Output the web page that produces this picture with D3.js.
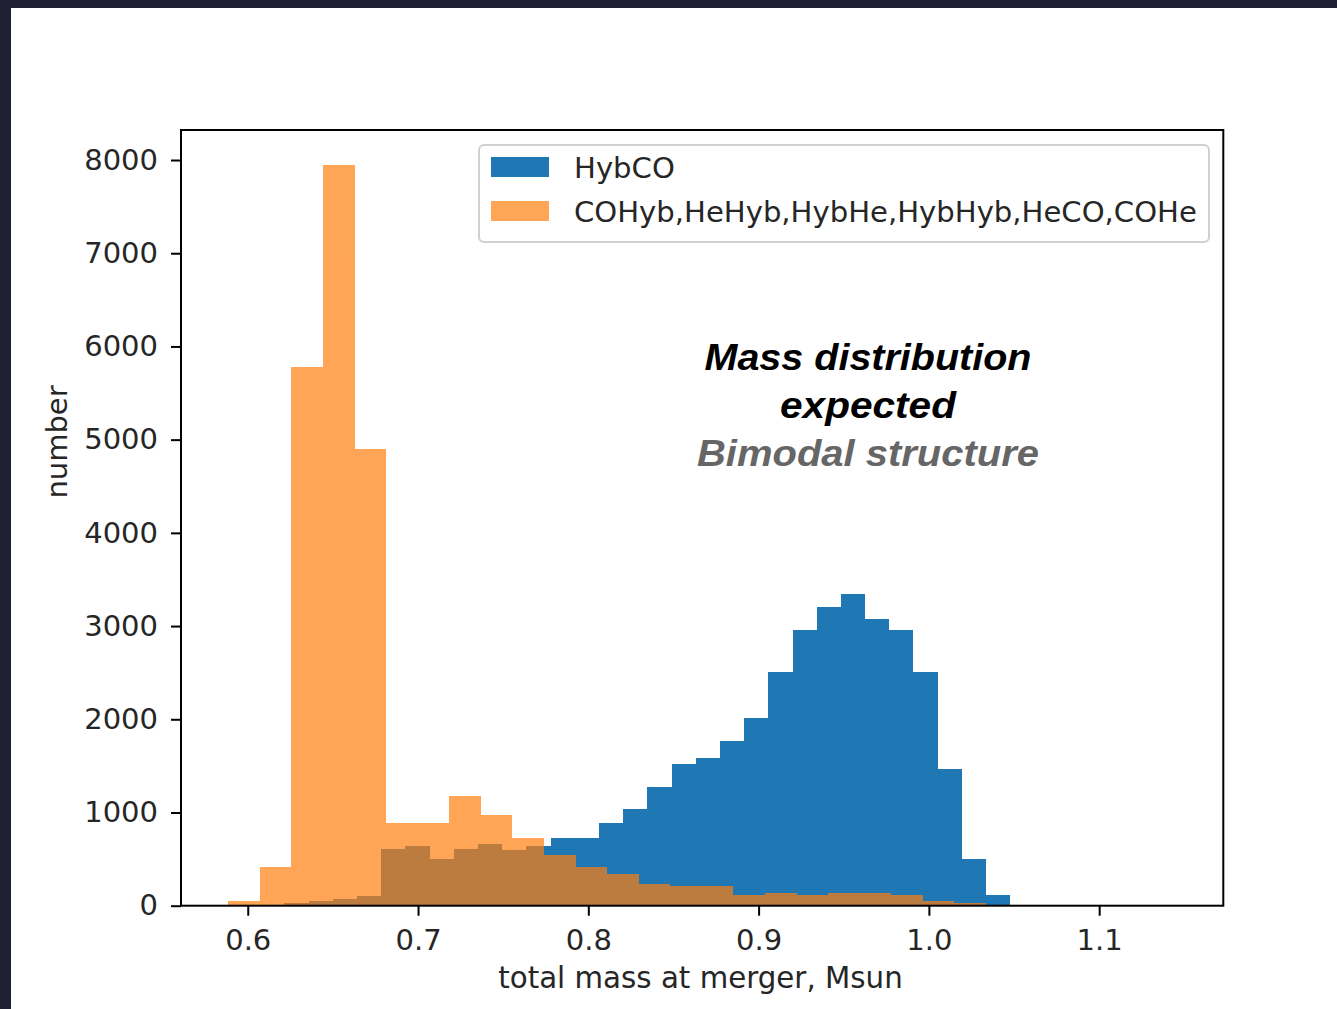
<!DOCTYPE html>
<html>
<head>
<meta charset="utf-8">
<script src="https://cdn.jsdelivr.net/npm/d3@7"></script>
<style>
  html, body { margin: 0; padding: 0; background: #1f2032; }
  svg { display: block; }
</style>
</head>
<body>
<svg id="chart" width="1337" height="1009"></svg>
<script>
// ---- data ----
const seriesNames = ["HybCO", "COHyb,HeHyb,HybHe,HybHyb,HeCO,COHe"];

// HybCO histogram: first bin edge, bin width (Msun), counts
const blueStart = 0.6215;
const blueWidth = 0.01421;
const blueCounts = [29, 46, 75, 100, 611, 636, 501, 611, 661, 593,
                    636, 726, 726, 887, 1040, 1269, 1519, 1584, 1762, 2012,
                    2506, 2960, 3203, 3339, 3074, 2960, 2506, 1469, 501, 118];

// other channels histogram
const orangeStart = 0.5886;
const orangeWidth = 0.018538;
const orangeCounts = [50, 411, 5780, 7950, 4900, 890, 890, 1180, 976, 726,
                      547, 411, 343, 232, 214, 210, 118, 136, 118, 136,
                      136, 118, 46, 29];

const xTicks = [0.6, 0.7, 0.8, 0.9, 1.0, 1.1];
const yTicks = [0, 1000, 2000, 3000, 4000, 5000, 6000, 7000, 8000];
const xDomain = [0.5608, 1.1729];
const yDomain = [0, 8322];

const xLabel = "total mass at merger, Msun";
const yLabel = "number";
const noteLines = ["Mass distribution", "expected", "Bimodal structure"];

// ---- layout ----
const svg = d3.select("#chart");
svg.append("rect").attr("x", 11).attr("y", 8).attr("width", 1337 - 11).attr("height", 1009 - 8).attr("fill", "#ffffff");

const L = 181, R = 1223.3, T = 130, B = 905.7;
const x = d3.scaleLinear().domain(xDomain).range([L, R]);
const y = d3.scaleLinear().domain(yDomain).range([B, T]);

function bins(start, width, counts) {
  return counts.map((c, i) => ({ x0: start + i * width, x1: start + (i + 1) * width, c }));
}

const plot = svg.append("g");

// blue
plot.append("g").attr("fill", "#1f77b4")
  .selectAll("rect").data(bins(blueStart, blueWidth, blueCounts)).join("rect")
  .attr("shape-rendering", "crispEdges")
  .attr("x", d => x(d.x0)).attr("width", d => x(d.x1) - x(d.x0))
  .attr("y", d => y(d.c)).attr("height", d => y(0) - y(d.c));

// orange (alpha 0.7)
plot.append("g").attr("fill", "#ff7f0e").attr("opacity", 0.7)
  .selectAll("rect").data(bins(orangeStart, orangeWidth, orangeCounts)).join("rect")
  .attr("shape-rendering", "crispEdges")
  .attr("x", d => x(d.x0)).attr("width", d => x(d.x1) - x(d.x0))
  .attr("y", d => y(d.c)).attr("height", d => y(0) - y(d.c));

// axes
const fontMain = "'DejaVu Sans', sans-serif";
const xAxis = svg.append("g").attr("transform", `translate(0,${B})`)
  .call(d3.axisBottom(x).tickValues(xTicks).tickFormat(d3.format(".1f")).tickSize(10).tickPadding(14));
const yAxis = svg.append("g").attr("transform", `translate(${L},0)`)
  .call(d3.axisLeft(y).tickValues(yTicks).tickFormat(d3.format("d")).tickSize(10).tickPadding(13));
[xAxis, yAxis].forEach(g => {
  g.select(".domain").remove();
  g.selectAll(".tick line").attr("stroke", "#000").attr("stroke-width", 2);
  g.selectAll(".tick text").attr("fill", "#262626").style("font-family", fontMain).style("font-size", "29px");
});
xAxis.selectAll(".tick text").attr("dy", "0.71em");

// spines
svg.append("rect").attr("x", L).attr("y", T).attr("width", R - L).attr("height", B - T)
  .attr("fill", "none").attr("stroke", "#000").attr("stroke-width", 2);

// axis labels
svg.append("text").attr("x", 700.5).attr("y", 988).attr("text-anchor", "middle")
  .attr("fill", "#262626").style("font-family", fontMain).style("font-size", "29.3px").text(xLabel);
svg.append("text").attr("transform", "translate(67,442) rotate(-90)").attr("text-anchor", "middle")
  .attr("fill", "#262626").style("font-family", fontMain).style("font-size", "29px").text(yLabel);

// legend
const lg = svg.append("g");
lg.append("rect").attr("x", 479).attr("y", 145).attr("width", 730).attr("height", 97).attr("rx", 5)
  .attr("fill", "#ffffff").attr("fill-opacity", 0.8).attr("stroke", "#d0d0d0").attr("stroke-width", 2);
const legendColors = [{ fill: "#1f77b4", op: 1 }, { fill: "#ff7f0e", op: 0.7 }];
seriesNames.forEach((name, i) => {
  const yy = 157 + i * 44;
  lg.append("rect").attr("x", 491).attr("y", yy).attr("width", 58).attr("height", 20)
    .attr("fill", legendColors[i].fill).attr("fill-opacity", legendColors[i].op);
  lg.append("text").attr("x", 574).attr("y", yy + 21).attr("fill", "#262626")
    .style("font-family", fontMain).style("font-size", "29.1px").text(name);
});

// annotation (reference glyphs are wider than Liberation Sans: stretch to match)
const noteColors = ["#000000", "#000000", "#666666"];
const noteWidths = [327, 176, 342];
noteLines.forEach((t, i) => {
  svg.append("text").attr("x", 868).attr("y", 370 + i * 48).attr("text-anchor", "middle")
    .attr("textLength", noteWidths[i]).attr("lengthAdjust", "spacingAndGlyphs")
    .attr("fill", noteColors[i]).style("font-family", "'Liberation Sans', Arial, sans-serif")
    .style("font-weight", "bold").style("font-style", "italic").style("font-size", "37px").text(t);
});
</script>
</body>
</html>
